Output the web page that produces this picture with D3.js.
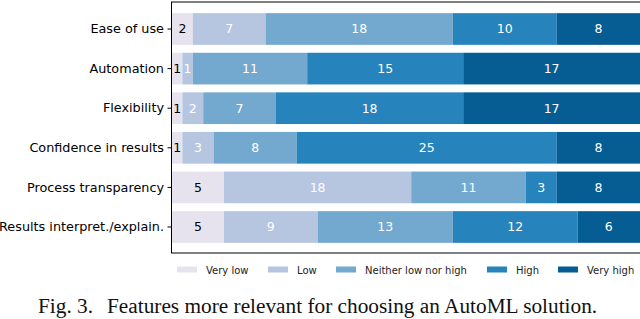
<!DOCTYPE html>
<html>
<head>
  <meta charset="utf-8">
  <title>AutoML features</title>
  <script src="https://d3js.org/d3.v7.min.js"></script>
  <style>
    body { margin: 0; background: #fff; }
  </style>
</head>
<body>
<script>
  // data
  var categories = ["Ease of use", "Automation", "Flexibility", "Confidence in results",
                    "Process transparency", "Results interpret./explain."];
  var levels = ["Very low", "Low", "Neither low nor high", "High", "Very high"];
  var veryLow  = [2, 1, 1, 1, 5, 5];
  var low      = [7, 1, 2, 3, 18, 9];
  var neither  = [18, 11, 7, 8, 11, 13];
  var high     = [10, 15, 18, 25, 3, 12];
  var veryHigh = [8, 17, 17, 8, 8, 6];
  var colors = ["#e6e3ef", "#b6c5e0", "#74a9cf", "#2683bb", "#065d93"];
  var textColors = ["#000", "#fff", "#fff", "#fff", "#fff"];

  var width = 640, height = 319;
  var margin = { top: 2, left: 171, bottom: 253 };

  var rows = categories.map(function(c, i) {
    return { cat: c, "Very low": veryLow[i], "Low": low[i], "Neither low nor high": neither[i],
             "High": high[i], "Very high": veryHigh[i] };
  });
  var series = d3.stack().keys(levels)(rows);

  var svg = d3.select("body").append("svg")
    .attr("width", width).attr("height", height)
    .style("font-family", "DejaVu Sans, sans-serif");

  var x = d3.scaleLinear().domain([0, 45]).range([172, 640]);
  var y = d3.scaleBand().domain(categories).range([9.2, 246.8])
    .paddingInner(0.2).paddingOuter(0.1);

  // bars
  var g = svg.append("g");
  series.forEach(function(s, si) {
    g.selectAll(null).data(s).enter().append("rect")
      .attr("x", function(d) { return x(d[0]); })
      .attr("y", function(d) { return y(d.data.cat); })
      .attr("width", function(d) { return x(d[1]) - x(d[0]); })
      .attr("height", y.bandwidth())
      .attr("fill", colors[si]);
    g.selectAll(null).data(s).enter().append("text")
      .attr("x", function(d) { return (x(d[0]) + x(d[1])) / 2; })
      .attr("y", function(d) { return y(d.data.cat) + y.bandwidth() / 2; })
      .attr("dy", "0.35em")
      .attr("text-anchor", "middle")
      .attr("font-size", "12.5px")
      .attr("fill", textColors[si])
      .text(function(d) { return d[1] - d[0]; });
  });

  // axes frame
  svg.append("line").attr("x1", margin.left).attr("x2", width)
    .attr("y1", margin.top).attr("y2", margin.top).attr("stroke", "#000");
  svg.append("line").attr("x1", margin.left).attr("x2", width)
    .attr("y1", margin.bottom).attr("y2", margin.bottom).attr("stroke", "#000");

  var yAxis = svg.append("g")
    .attr("transform", "translate(" + margin.left + ",0)")
    .call(d3.axisLeft(y).tickSize(3.5).tickPadding(3.5).tickSizeOuter(0));
  yAxis.select(".domain").attr("d", "M0.5," + margin.top + "V" + margin.bottom);
  yAxis.selectAll("text").attr("font-size", "12.8px").attr("font-family", "DejaVu Sans, sans-serif")
    .attr("fill", "#000");

  // legend
  var lx = [177, 268, 336, 487, 558];
  var legend = svg.append("g").attr("transform", "translate(0,270)");
  levels.forEach(function(l, i) {
    legend.append("rect").attr("x", lx[i]).attr("y", -3.5).attr("width", 20).attr("height", 6)
      .attr("fill", colors[i]);
    legend.append("text").attr("x", lx[i] + 29).attr("y", 0).attr("dy", "0.35em")
      .attr("font-size", "10px").attr("fill", "#222").text(l);
  });

  // caption
  var cap = svg.append("text").attr("y", 313)
    .attr("font-family", "Liberation Serif, Times New Roman, serif")
    .attr("font-size", "21.3px").attr("fill", "#111");
  cap.append("tspan").attr("x", 38).text("Fig. 3.");
  cap.append("tspan").attr("x", 107).text("Features more relevant for choosing an AutoML solution.");
</script>
</body>
</html>
